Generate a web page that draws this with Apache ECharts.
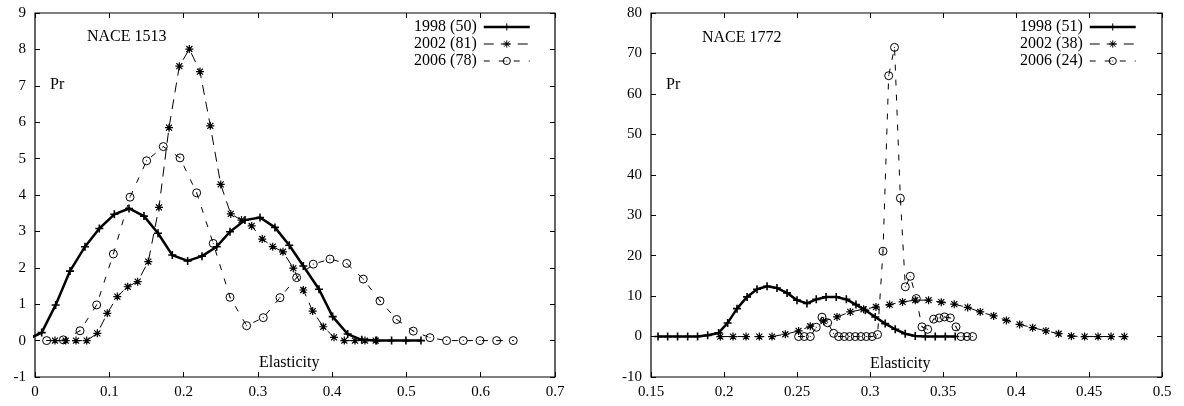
<!DOCTYPE html>
<html>
<head>
<meta charset="utf-8">
<script src="https://cdn.jsdelivr.net/npm/echarts@6/dist/echarts.min.js"></script>
<style>html,body{margin:0;padding:0;background:#fff;}#c{width:1184px;height:406px;}</style>
</head>
<body>
<div id="c"></div>
<script>
// ---- Data (Elasticity, Pr) ----
const xTicksA = [0, 0.1, 0.2, 0.3, 0.4, 0.5, 0.6, 0.7];
const yTicksA = [-1, 0, 1, 2, 3, 4, 5, 6, 7, 8, 9];
const xTicksB = [0.15, 0.2, 0.25, 0.3, 0.35, 0.4, 0.45, 0.5];
const yTicksB = [-10, 0, 10, 20, 30, 40, 50, 60, 70, 80];

const namesA = ['1998 (50)', '2002 (81)', '2006 (78)'];
const namesB = ['1998 (51)', '2002 (38)', '2006 (24)'];
const titleA = 'NACE 1513';
const titleB = 'NACE 1772';

const a1998 = [[-0.0104,0.03],[0.009,0.22],[0.0278,0.98],[0.0471,1.91],[0.0673,2.58],[0.0866,3.08],[0.1068,3.47],[0.1265,3.63],[0.1467,3.42],[0.1656,2.95],[0.1848,2.35],[0.2055,2.19],[0.2248,2.32],[0.2446,2.58],[0.2625,2.99],[0.2827,3.31],[0.3029,3.38],[0.323,3.11],[0.3423,2.62],[0.3612,2.05],[0.3823,1.41],[0.4007,0.66],[0.4209,0.18],[0.4398,0.02],[0.46,0],[0.48,0],[0.4993,0],[0.5196,0]];
const a2002 = [[0.0269,0],[0.0413,0],[0.0552,0],[0.0696,0],[0.0839,0.2],[0.0973,0.75],[0.1108,1.21],[0.1248,1.48],[0.1382,1.62],[0.1525,2.17],[0.1669,3.66],[0.1804,5.85],[0.1943,7.54],[0.2078,8.01],[0.2221,7.39],[0.236,5.9],[0.25,4.29],[0.2635,3.48],[0.278,3.31],[0.2917,3.15],[0.3059,2.79],[0.32,2.58],[0.3338,2.44],[0.3477,1.99],[0.3612,1.39],[0.3738,0.81],[0.3881,0.38],[0.4025,0.09],[0.4164,0],[0.4307,0],[0.4442,0],[0.4586,0]];
const a2006 = [[0.0157,0],[0.0381,0.02],[0.0606,0.27],[0.083,0.98],[0.1055,2.38],[0.1279,3.94],[0.1503,4.94],[0.1727,5.33],[0.1952,5.02],[0.2176,4.06],[0.2399,2.67],[0.2625,1.19],[0.2849,0.41],[0.3073,0.63],[0.3298,1.18],[0.3522,1.73],[0.3746,2.1],[0.3971,2.24],[0.4196,2.12],[0.4419,1.69],[0.4644,1.09],[0.4869,0.58],[0.5092,0.26],[0.5317,0.08],[0.5541,0],[0.5765,0],[0.599,0],[0.6214,0],[0.6438,0]];

const b1998 = [[0.1548,0],[0.1614,0],[0.1682,0],[0.1751,0],[0.1819,0],[0.1888,0.3],[0.1963,0.9],[0.2025,3.37],[0.2089,6.9],[0.2158,9.8],[0.2226,11.7],[0.2295,12.45],[0.2363,12.0],[0.2432,10.8],[0.25,9.0],[0.2568,8.2],[0.2632,9.2],[0.2699,9.8],[0.2769,9.8],[0.2838,9.2],[0.2904,7.9],[0.2968,6.5],[0.3036,4.85],[0.3104,3.2],[0.3173,1.8],[0.3241,0.7],[0.331,0.15],[0.3379,0],[0.3447,0],[0.3516,0],[0.3584,0]];
const b2002 = [[0.1975,0],[0.2062,0],[0.2151,0],[0.2242,0],[0.2329,0],[0.242,0.57],[0.2511,1.4],[0.2591,2.55],[0.2682,3.8],[0.2774,4.85],[0.2865,6.1],[0.2956,6.75],[0.3041,7.3],[0.3134,7.9],[0.3223,8.57],[0.331,9.0],[0.3401,9.0],[0.3488,8.5],[0.3577,8.0],[0.3669,7.2],[0.3755,6.1],[0.3847,5.1],[0.3934,4.0],[0.4025,3.0],[0.4114,2.2],[0.4205,1.4],[0.4292,0.7],[0.4379,0.1],[0.447,0],[0.4562,0],[0.4651,0],[0.4742,0]];
const b2006 = [[0.2511,0],[0.255,0],[0.2591,0],[0.2632,2.3],[0.2671,4.8],[0.271,3.4],[0.2751,0.8],[0.2785,0],[0.2824,0],[0.286,0],[0.2899,0],[0.2938,0],[0.2975,0],[0.3014,0],[0.3052,0.5],[0.3089,21.1],[0.3128,64.5],[0.3168,71.5],[0.3208,34.2],[0.3242,12.3],[0.3276,14.9],[0.3317,9.4],[0.3356,2.4],[0.3395,1.8],[0.3436,4.3],[0.3474,4.6],[0.351,4.85],[0.355,4.6],[0.3589,2.4],[0.3623,0],[0.3664,0],[0.3703,0]];

// ---- Styling ----
const FONT = 'Liberation Serif, Times New Roman, serif';
const PLUS = 'path://M-4,0L4,0M0,-4L0,4';
const STAR = 'path://M-4,0L4,0M0,-4L0,4M-3,-3L3,3M-3,3L3,-3';
const ODOT = 'path://M4,0A4,4,0,1,1,-4,0A4,4,0,1,1,4,0ZM-0.5,0L0.5,0';
const STYLES = {
  '1998': {symbol: PLUS, w: 2.5, dash: 'solid', bw: 1.6},
  '2002': {symbol: STAR, w: 1, dash: [10, 7], bw: 1.2},
  '2006': {symbol: ODOT, w: 1, dash: [6, 9], bw: 1}
};
const KINDS = ['1998', '2002', '2006'];

function mkSeries(name, data, idx, kind) {
  const st = STYLES[kind];
  return {
    name: name, type: 'line', xAxisIndex: idx * 2, yAxisIndex: idx * 2,
    data: data, symbol: st.symbol, symbolSize: 8, showSymbol: true,
    clip: true, animation: false,
    lineStyle: {color: '#000', width: st.w, type: st.dash},
    itemStyle: {color: 'rgba(0,0,0,0)', borderColor: '#000', borderWidth: st.bw},
    emphasis: {disabled: true}
  };
}

function xAx(g, ticks, pos, labels) {
  return {
    gridIndex: g, type: 'value', position: pos,
    min: ticks[0], max: ticks[ticks.length - 1], interval: ticks[1] - ticks[0],
    axisLine: {show: false, onZero: false},
    axisTick: {show: true, inside: true, length: 5, lineStyle: {color: '#000', width: 1}},
    axisLabel: {show: labels, color: '#000', fontFamily: FONT, fontSize: 15, margin: 8,
      formatter: v => String(Math.round(v * 1000) / 1000)},
    splitLine: {show: false}
  };
}
function yAx(g, ticks, pos, labels) {
  return {
    gridIndex: g, type: 'value', position: pos,
    min: ticks[0], max: ticks[ticks.length - 1], interval: ticks[1] - ticks[0],
    axisLine: {show: false, onZero: false},
    axisTick: {show: true, inside: true, length: 5, lineStyle: {color: '#000', width: 1}},
    axisLabel: {show: labels, color: '#000', fontFamily: FONT, fontSize: 15, margin: 9},
    splitLine: {show: false}
  };
}
function legendAt(names, right) {
  return {
    data: names.map((n, i) => {
      const st = STYLES[KINDS[i]];
      return {
        name: n,
        lineStyle: {color: '#000', width: st.w, type: st.dash},
        itemStyle: {color: 'rgba(0,0,0,0)', borderColor: '#000', borderWidth: 1}
      };
    }),
    orient: 'vertical', right: right, top: 14, align: 'right',
    itemWidth: 46, itemHeight: 9, itemGap: 1,
    textStyle: {color: '#000', fontFamily: FONT, fontSize: 16, padding: [0, 2, 0, 0]},
    selectedMode: false
  };
}
function txt(t, x, y) {
  return {type: 'text', left: x, top: y, style: {text: t, fill: '#000', font: '16px ' + FONT}};
}

const chart = echarts.init(document.getElementById('c'), null, {renderer: 'canvas'});
chart.setOption({
  backgroundColor: '#fff',
  animation: false,
  grid: [
    {left: 35, top: 13, width: 520, height: 364, show: true, borderColor: '#000', borderWidth: 1.2, backgroundColor: 'transparent'},
    {left: 651, top: 13, width: 511, height: 364, show: true, borderColor: '#000', borderWidth: 1.2, backgroundColor: 'transparent'}
  ],
  xAxis: [xAx(0, xTicksA, 'bottom', true), xAx(0, xTicksA, 'top', false),
          xAx(1, xTicksB, 'bottom', true), xAx(1, xTicksB, 'top', false)],
  yAxis: [yAx(0, yTicksA, 'left', true), yAx(0, yTicksA, 'right', false),
          yAx(1, yTicksB, 'left', true), yAx(1, yTicksB, 'right', false)],
  legend: [legendAt(namesA, 648), legendAt(namesB, 42)],
  graphic: [
    txt(titleA, 87, 29), txt('Pr', 50, 77), txt('Elasticity', 259, 355),
    txt(titleB, 702, 30), txt('Pr', 666, 77), txt('Elasticity', 870, 356)
  ],
  series: [
    mkSeries(namesA[0], a1998, 0, '1998'),
    mkSeries(namesA[1], a2002, 0, '2002'),
    mkSeries(namesA[2], a2006, 0, '2006'),
    mkSeries(namesB[0], b1998, 1, '1998'),
    mkSeries(namesB[1], b2002, 1, '2002'),
    mkSeries(namesB[2], b2006, 1, '2006')
  ]
});
</script>
</body>
</html>
